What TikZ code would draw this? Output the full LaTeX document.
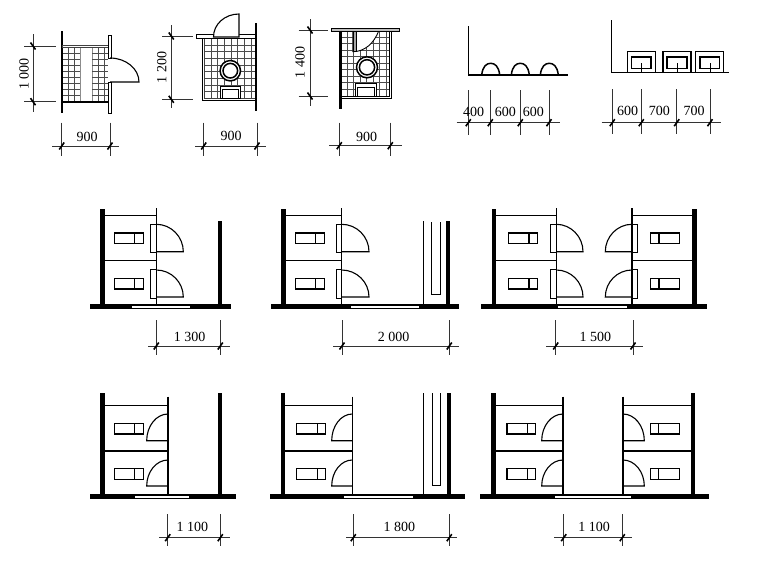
\documentclass[tikz,border=0pt]{standalone}
\usepackage{fontspec}
\setmainfont{Liberation Serif}
\tikzset{
  dimline/.style={line width=0.8pt,black!80},
  tickmark/.style={line width=1.6pt,black},
  label/.style={inner sep=0pt,font=\fontsize{14}{14}\selectfont},
  wall/.style={fill=black,draw=none},
  planline/.style={line width=1.1pt,black},
  fineline/.style={line width=0.9pt,black},
  tile/.style={line width=0.7pt,black!70},
  tileband/.style={line width=1pt,black!45},
  heavy/.style={line width=1.5pt,black},
}
% horizontal dimension: y, line x0, line x1, list of extension x, ext top, ext bottom
\newcommand{\hdim}[6]{%
  \draw[dimline] (#2,#1) -- (#3,#1);
  \foreach \ex in {#4}{
    \draw[dimline] (\ex,#5) -- (\ex,#6);
    \draw[tickmark] (\ex-2.5,#1+3.5) -- (\ex+2.5,#1-3.5);
  }}
% vertical dimension: x, line y0, line y1, list of extension y, ext left, ext right
\newcommand{\vdim}[6]{%
  \draw[dimline] (#1,#2) -- (#1,#3);
  \foreach \ey in {#4}{
    \draw[dimline] (#5,\ey) -- (#6,\ey);
    \draw[tickmark] (#1-2.5,\ey-3.5) -- (#1+2.5,\ey+3.5);
  }}
% quarter-round door swing: hinge x, top y, bottom y, end x
\newcommand{\swingarc}[4]{%
  \pgfmathsetmacro\cax{#1+0.55*(#4-#1)}
  \pgfmathsetmacro\cay{#2+0.45*(#3-#2)}
  \draw[planline] (#1,#2) .. controls (\cax,#2) and (#4,\cay) .. (#4,#3) -- (#1,#3);
}
% urinal plan: x0, x1, divider, y0, y1
\newcommand{\fixture}[5]{%
  \draw[heavy] (#1,#4) rectangle (#2,#5);
  \draw[heavy] (#3,#4) -- (#3,#5);
}
% row-two stall bank: partition x, wall x, urinal x0, x1, divider, door end, leaf x
\newcommand{\bankout}[7]{%
  \draw[fineline] (#2,215) -- (#1,215);
  \draw[heavy] (#2,260.7) -- (#1,260.7);
  \draw[planline] (#1,208.3) -- (#1,304.5);
  \draw[fineline] (#7,224.3) rectangle (#1,252.7);
  \draw[fineline] (#7,269.7) rectangle (#1,298.3);
  \swingarc{#1}{224.3}{251.7}{#6}
  \swingarc{#1}{270}{297}{#6}
  \fixture{#3}{#4}{#5}{233}{243.7}
  \fixture{#3}{#4}{#5}{278.7}{289}
}
% row-three stall bank: partition x, wall x, urinal x0, x1, divider, door end
\newcommand{\bankin}[6]{%
  \draw[fineline] (#2,405) -- (#1,405);
  \draw[heavy] (#2,451) -- (#1,451);
  \draw[planline] (#1,396.7) -- (#1,494.5);
  \swingarc{#1}{414}{440.7}{#6}
  \swingarc{#1}{460}{486}{#6}
  \fixture{#3}{#4}{#5}{423.3}{434}
  \fixture{#3}{#4}{#5}{468.7}{479.3}
}
% floor band with door opening: x0, x1, open0, open1, y0, y1
\newcommand{\floorband}[6]{%
  \fill[black] (#1,#5) rectangle (#2,#6);
  \fill[white] (#3,#5+1.4) rectangle (#4,#6-1.1);
}
% wash basin: x offset
\newcommand{\basin}[1]{%
  \draw[heavy] (#1,51.3) rectangle (#1+28,72.7);
  \draw[line width=1.7pt] (#1+4.2,56.9) rectangle (#1+23.9,68.4);
  \draw[fineline] (#1+14.4,63.3) -- (#1+14.4,72.7);
}
\newcommand{\bowl}[3]{%
  \fill[white] (#1,#2) circle[radius=10.5];
  \draw[heavy] (#1,#2) circle[radius=#3];
  \draw[heavy] (#1,#2) circle[radius=#3-2.9];
}
\begin{document}
\begin{tikzpicture}[x=1pt,y=-1pt]
\useasboundingbox (0,0) rectangle (767,565);
\fill[white] (0,0) rectangle (767,565);

%%% ---- Plan 1
\foreach \gx in {68,74,98,104} \draw[tile] (\gx,47) -- (\gx,101);
\foreach \gx in {80,92} \draw[tileband] (\gx,47) -- (\gx,101);
\foreach \gy in {53,59,65,71,77,83,89,95} {
  \draw[tile] (62,\gy) -- (80,\gy);
  \draw[tile] (92,\gy) -- (108,\gy);
}
\fill[black] (60.6,30.7) rectangle (63,112.7);
\draw[fineline,black!75] (62,45) rectangle (108.7,47);
\fill[black] (62,100.5) rectangle (108.7,102.7);
\draw[fineline,fill=white] (108.7,35) rectangle (111.5,58);
\draw[fineline,fill=white] (108.7,82) rectangle (111.5,113);
\swingarc{110}{58}{82}{139}
\vdim{33}{34}{112}{46,101.7}{24}{56}
\node[label,rotate=90] (a1) at (24,74) {1 000};
\hdim{146}{52}{119}{61.7,110}{122.7}{155.7}
\node[label] (a2) at (87,136.7) {900};

%%% ---- Plan 2
\foreach \gx in {211,217.7,224.3,231,237.7,244.3,251} \draw[tile] (\gx,38) -- (\gx,98);
\foreach \gy in {45,51.7,58.3,65,71.7,78.3,85,91.7} \draw[tile] (204,\gy) -- (255,\gy);
\draw[fineline] (202.3,38) -- (202.3,100) -- (255,100);
\draw[fineline,black!75] (204,38) -- (204,98) -- (255,98);
\bowl{230.3}{70.7}{10.2}
\draw[fineline,fill=white] (220.7,86) rectangle (240.7,98);
\draw[fineline] (222.7,89) rectangle (238.7,98);
\fill[black] (254.8,22.7) rectangle (257.4,110.7);
\draw[fineline,fill=white] (196.7,34.3) rectangle (255,38.3);
\draw[planline,fill=white] (239,14) .. controls (225,14) and (213.5,24) .. (213.5,37) -- (239,37) -- cycle;
\vdim{171.3}{25}{108.3}{36,99.3}{162}{193}
\node[label,rotate=90] (b1) at (161.7,67.3) {1 200};
\hdim{146}{195}{266}{203.7,257}{122.7}{156}
\node[label] (b2) at (231,136.3) {900};

%%% ---- Plan 3
\foreach \gx in {347,353.5,360,366.5,373,379.5,386} \draw[tile] (\gx,31) -- (\gx,96);
\foreach \gy in {37,43.5,50,56.5,63,69.5,76,82.5,89} \draw[tile] (341,\gy) -- (390,\gy);
\draw[fineline,fill=white] (352.7,31) -- (378.7,31) .. controls (374,43) and (365,51.7) .. (352.7,51.7) -- cycle;
\draw[fineline,fill=black!35] (353,31) rectangle (356.5,51.7);
\draw[fineline] (391.7,31) -- (391.7,98) -- (341,98);
\draw[fineline] (389.8,31) -- (389.8,96) -- (341,96);
\bowl{367}{67.3}{10.5}
\draw[fineline,fill=white] (355.7,83.3) rectangle (376.7,96);
\draw[fineline] (357.7,87) rectangle (374.7,96);
\fill[black] (339,30) rectangle (341.6,109.3);
\draw[fineline,fill=black!25] (331.7,28.7) rectangle (399.3,31.3);
\vdim{310}{19.3}{106}{30,96}{298.7}{328}
\node[label,rotate=90] (c1) at (300,62.7) {1 400};
\hdim{145.7}{329}{401.7}{339.3,390.3}{122.7}{155.7}
\node[label] (c2) at (366.7,136.7) {900};

%%% ---- Plan 4
\draw[heavy] (468.3,26) -- (468.3,75) -- (568.3,75);
\foreach \ax in {481.7,511.3,540.3}
  \draw[heavy] (\ax,75) .. controls (\ax+1,66) and (\ax+5,63.3) .. (\ax+9,63.3) .. controls (\ax+13,63.3) and (\ax+17,66) .. (\ax+18,75);
\hdim{122.7}{456.7}{560}{468.3,490.3,520.3,549}{90}{135}
\node[label] (d1) at (473.7,111.5) {400};
\node[label] (d2) at (505.3,111.5) {600};
\node[label] (d3) at (533.3,111.5) {600};

%%% ---- Plan 5
\draw[heavy] (611.7,20) -- (611.7,72.7) -- (729,72.7);
\basin{627.3}
\basin{663}
\basin{695.7}
\hdim{122.7}{601.7}{720.7}{612.3,641.3,676.7,710}{89.3}{134}
\node[label] (e1) at (627.7,111) {600};
\node[label] (e2) at (659.3,111) {700};
\node[label] (e3) at (694,111) {700};

%%% ---- Row two, left
\floorband{90}{231.3}{132}{190.3}{304.3}{309}
\fill[black] (100.3,209.3) rectangle (105,304.5);
\fill[black] (218,221) rectangle (222,304.5);
\bankout{156.3}{105}{114.3}{143.3}{134.7}{183.3}{150.3}
\hdim{346}{148}{230}{156.3,220.3}{320}{355}
\node[label] (f1) at (189.7,337) {1 300};

%%% ---- Row two, middle
\floorband{270.7}{459.3}{351}{418.7}{304.3}{309}
\fill[black] (281.3,209.3) rectangle (286,304.5);
\fill[black] (446.3,221) rectangle (450.3,304.5);
\bankout{341.7}{286}{295.3}{324.3}{315.7}{369}{336.3}
\draw[planline] (423.3,221) -- (423.3,304.5);
\draw[planline] (431.3,222) -- (431.3,294.3) -- (440.3,294.3) -- (440.3,222);
\hdim{346}{333.3}{458.7}{342,449.3}{320}{355}
\node[label] (g1) at (393.7,337) {2 000};

%%% ---- Row two, right
\floorband{480.7}{707}{558.3}{627}{304.3}{309}
\fill[black] (491.7,209.3) rectangle (496.3,304.5);
\fill[black] (692,209.3) rectangle (696.7,304.5);
\bankout{556.3}{496.3}{508.7}{537.3}{529}{583}{550.3}
\bankout{632}{692}{650.7}{679.3}{659}{605.3}{637.7}
\hdim{346}{546}{643}{555.7,633}{320}{355}
\node[label] (h1) at (595.3,337) {1 500};

%%% ---- Row three, left
\floorband{90}{235.7}{135}{188.7}{494.3}{499.3}
\fill[black] (100.3,393.3) rectangle (105,494.5);
\fill[black] (218,393.3) rectangle (222,494.5);
\bankin{168}{105}{114.3}{143.3}{134.7}{146.7}
\hdim{537.7}{159.3}{230}{167.7,220.3}{514.3}{546}
\node[label] (i1) at (192.3,527.3) {1 100};

%%% ---- Row three, middle
\floorband{270}{465}{344.3}{413}{494.3}{499.3}
\fill[black] (281,393.3) rectangle (285.3,494.5);
\fill[black] (447,393.3) rectangle (451.3,494.5);
\bankin{352.3}{285.3}{296.7}{325.7}{317.3}{331.7}
\draw[planline] (423.7,393.3) -- (423.7,494.5);
\draw[planline] (432.3,393.3) -- (432.3,485.3) -- (440.7,485.3) -- (440.7,393.3);
\hdim{537.7}{346}{456.7}{353.3,449.3}{514.3}{546}
\node[label] (j1) at (399.3,527.3) {1 800};

%%% ---- Row three, right
\floorband{480}{709}{555}{631}{494.3}{499.3}
\fill[black] (491,393.3) rectangle (495.7,494.5);
\fill[black] (690.7,393.3) rectangle (695,494.5);
\bankin{563}{495.7}{507}{535.7}{527.3}{541.7}
\bankin{623}{690.7}{650.3}{679.3}{658.7}{644.3}
\hdim{537.7}{554}{631.7}{563.7,622.3}{514.3}{546}
\node[label] (k1) at (594,527.3) {1 100};
\end{tikzpicture}
\end{document}
